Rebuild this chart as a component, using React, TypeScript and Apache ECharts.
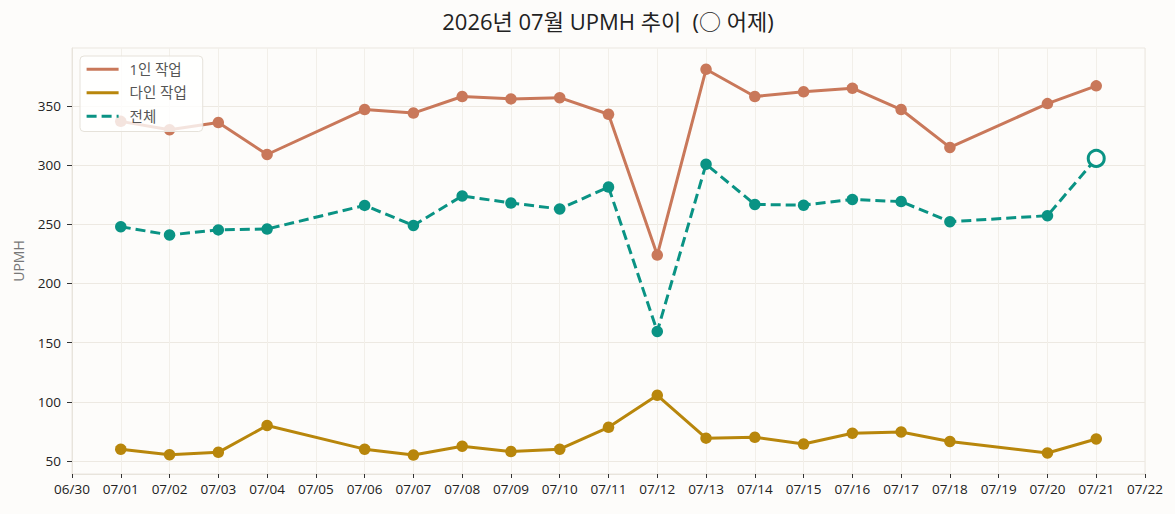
import React, { useEffect, useRef } from "react";
import * as echarts from "echarts";

const dates = [
  "06/30", "07/01", "07/02", "07/03", "07/04", "07/05", "07/06", "07/07",
  "07/08", "07/09", "07/10", "07/11", "07/12", "07/13", "07/14", "07/15",
  "07/16", "07/17", "07/18", "07/19", "07/20", "07/21", "07/22",
];
const soloValues = [
  null, 337, 330, 336, 309, null, 347, 344, 358, 356, 357, 343, 224, 381, 358,
  362, 365, 347, 315, null, 352, 367, null,
];
const multiValues = [
  null, 60, 55.3, 57.3, 80, null, 60, 55, 62.5, 58, 60, 78.5, 105.5, 69.3, 70,
  64.3, 73.5, 74.5, 66.5, null, 56.8, 68.6, null,
];
const totalValues = [
  null, 248, 241, 245.3, 246, null, 266, 249, 274, 268, 263, 281.5, 159.5, 300.8,
  266.8, 266.2, 271, 269.2, 252.2, null, 257.3, 305.7, null,
];
const yTicks = [50, 100, 150, 200, 250, 300, 350];
const yesterdayIndex = 21;

const BG = "#fdfcfa";
const C_SOLO = "#c9785a";
const C_MULTI = "#b8860b";
const C_TOTAL = "#0a9384";
const FONT = "'Open Sans', 'Noto Sans CJK KR', sans-serif";

export default function App() {
  const ref = useRef<HTMLDivElement>(null);
  useEffect(() => {
    if (!ref.current) return;
    const chart = echarts.init(ref.current, undefined, { renderer: "svg" });
    const totalData = totalValues.map((v, i) =>
      i === yesterdayIndex
        ? {
            value: v,
            symbolSize: 16,
            itemStyle: { color: BG, borderColor: C_TOTAL, borderWidth: 3 },
          }
        : v
    );
    chart.setOption({
      animation: false,
      backgroundColor: BG,
      textStyle: { fontFamily: FONT },
      title: {
        text: "2026년 07월 UPMH 추이  (○ 어제)",
        left: 608,
        top: 10,
        padding: 0,
        textAlign: "center",
        textStyle: { fontSize: 22, fontWeight: "normal", color: "#222", fontFamily: FONT },
      },
      legend: {
        orient: "vertical",
        left: 80,
        top: 56,
        padding: [6, 16, 8, 5],
        itemGap: 9,
        itemWidth: 32,
        itemHeight: 14,
        backgroundColor: "rgba(255,255,255,0.8)",
        borderColor: "#e6e2da",
        borderWidth: 1,
        borderRadius: 4,
        itemStyle: { opacity: 0 },
        lineStyle: { width: 3.2 },
        textStyle: { fontSize: 14.5, color: "#555", padding: [0, 0, 0, 6], fontFamily: FONT },
        data: ["1인 작업", "다인 작업", "전체"],
      },
      grid: {
        left: 72,
        right: 30,
        top: 48,
        bottom: 40,
        show: true,
        borderColor: "#ebe7e0",
        borderWidth: 1,
        backgroundColor: "transparent",
      },
      xAxis: {
        type: "category",
        data: dates,
        boundaryGap: false,
        axisLine: { lineStyle: { color: "#e8e4dc" } },
        axisTick: { show: true, interval: 0, length: 4, lineStyle: { color: "#333" } },
        axisLabel: { interval: 0, fontSize: 13.5, color: "#222", margin: 8, fontFamily: FONT },
        splitLine: { show: true, interval: 0, lineStyle: { color: "#f2efe9" } },
      },
      yAxis: {
        type: "value",
        min: 39,
        max: 399,
        splitNumber: 7,
        name: "UPMH",
        nameLocation: "middle",
        nameGap: 47,
        nameTextStyle: { fontSize: 14, color: "#777", fontFamily: FONT },
        axisLine: { show: true, lineStyle: { color: "#e8e4dc" } },
        axisTick: { show: true, length: 5, lineStyle: { color: "#333" }, customValues: yTicks },
        axisLabel: { fontSize: 13.5, color: "#222", margin: 11, customValues: yTicks, fontFamily: FONT },
        splitLine: { show: true, lineStyle: { color: "#ede9e2" } },
      },
      series: [
        {
          name: "1인 작업",
          type: "line",
          data: soloValues,
          connectNulls: true,
          symbol: "circle",
          symbolSize: 11.5,
          lineStyle: { color: C_SOLO, width: 3 },
          itemStyle: { color: C_SOLO },
        },
        {
          name: "다인 작업",
          type: "line",
          data: multiValues,
          connectNulls: true,
          symbol: "circle",
          symbolSize: 11.5,
          lineStyle: { color: C_MULTI, width: 3 },
          itemStyle: { color: C_MULTI },
        },
        {
          name: "전체",
          type: "line",
          data: totalData,
          connectNulls: true,
          symbol: "circle",
          symbolSize: 11.5,
          lineStyle: { color: C_TOTAL, width: 3, type: [10, 5] },
          itemStyle: { color: C_TOTAL },
        },
      ],
    });
    return () => chart.dispose();
  }, []);
  return (
    <>
      <style>{"#upmh-chart svg text { white-space: pre; }"}</style>
      <div
        id="upmh-chart"
        ref={ref}
        style={{ position: "absolute", left: 0, top: 0, width: 1175, height: 514 }}
      />
    </>
  );
}
